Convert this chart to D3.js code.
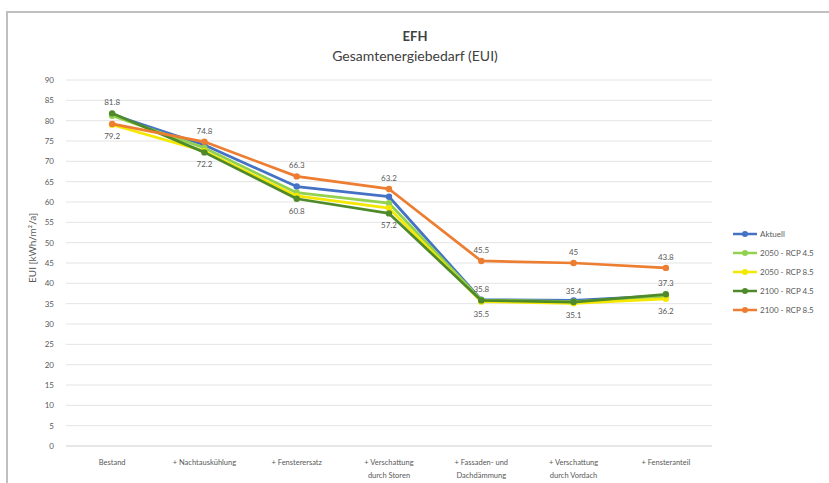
<!DOCTYPE html>
<html>
<head>
<meta charset="utf-8">
<script src="https://cdn.jsdelivr.net/npm/d3@7"></script>
<style>
  body { margin: 0; background: #fff; }
  text { font-family: Lato, "Noto Sans", sans-serif; }
</style>
</head>
<body>
<div id="vis"></div>
<script>
// Categories along the x axis (line breaks as in the reference)
var categories = [
  ['Bestand'],
  ['+ Nachtauskühlung'],
  ['+ Fensterersatz'],
  ['+ Verschattung', 'durch Storen'],
  ['+ Fassaden- und', 'Dachdämmung'],
  ['+ Verschattung', 'durch Vordach'],
  ['+ Fensteranteil']
];

var seriesNames = ['Aktuell', '2050 - RCP 4.5', '2050 - RCP 8.5', '2100 - RCP 4.5', '2100 - RCP 8.5'];

// Values
var aktuell  = [81.5, 74.0, 63.8, 61.3, 36.0, 35.8, 37.0];
var rcp45_50 = [81.2, 73.3, 62.3, 59.7, 35.9, 35.5, 36.8];
var rcp85_50 = [79.0, 72.5, 61.5, 58.5, 35.5, 35.1, 36.2];
var rcp45_00 = [81.8, 72.2, 60.8, 57.2, 35.8, 35.4, 37.3];
var rcp85_00 = [79.2, 74.8, 66.3, 63.2, 45.5, 45.0, 43.8];

var yTicks = d3.range(0, 91, 5);

// Which points carry a data label: [series index, point index, 'above'|'below']
var labelSpecs = [
  [3, 0, 'above'], [3, 1, 'below'], [3, 2, 'below'], [3, 3, 'below'],
  [3, 4, 'above'], [3, 5, 'above'], [3, 6, 'above'],
  [4, 0, 'below'], [4, 1, 'above'], [4, 2, 'above'], [4, 3, 'above'],
  [4, 4, 'above'], [4, 5, 'above'], [4, 6, 'above'],
  [2, 4, 'below'], [2, 5, 'below'], [2, 6, 'below']
];

var colors = ['#4472c4', '#92d050', '#f5e800', '#4f8a2a', '#ed7d31'];

var data = [aktuell, rcp45_50, rcp85_50, rcp45_00, rcp85_00].map(function (v, i) {
  return { name: seriesNames[i], values: v, color: colors[i] };
});

var width = 829;
var height = 483;
var plot = { left: 66, right: 712, top: 80, bottom: 446 };

var svg = d3.select('#vis').append('svg')
  .attr('width', width)
  .attr('height', height);

// Frame of the screenshot (top and left edges)
svg.append('path')
  .attr('d', 'M7,' + height + 'V12H' + width)
  .attr('fill', 'none')
  .attr('stroke', '#bfbfbf')
  .attr('stroke-width', 2);

// Titles
svg.append('text')
  .attr('x', 415).attr('y', 41)
  .attr('text-anchor', 'middle')
  .style('font-size', '13px')
  .style('font-weight', 'bold')
  .attr('fill', '#404040')
  .text('EFH');

svg.append('text')
  .attr('x', 415).attr('y', 61)
  .attr('text-anchor', 'middle')
  .style('font-size', '14px')
  .attr('fill', '#404040')
  .text('Gesamtenergiebedarf (EUI)');

var x = d3.scaleBand()
  .domain(d3.range(categories.length))
  .range([plot.left, plot.right]);

var y = d3.scaleLinear()
  .domain([0, 90])
  .range([plot.bottom, plot.top]);

var g = svg.append('g');

// Gridlines
g.selectAll('.grid').data(yTicks)
  .enter().append('line')
  .attr('class', 'grid')
  .attr('x1', plot.left).attr('x2', plot.right)
  .attr('y1', function (d) { return y(d); })
  .attr('y2', function (d) { return y(d); })
  .attr('stroke', function (d) { return d === 0 ? '#cfcfcf' : '#e4e4e4'; })
  .attr('stroke-width', 1);

// Y axis labels
var yAxis = d3.axisLeft(y).tickValues(yTicks).tickSize(0).tickPadding(0);
var yG = g.append('g')
  .attr('transform', 'translate(' + (plot.left - 12) + ',0)')
  .call(yAxis);
yG.select('.domain').remove();
yG.selectAll('text')
  .style('font-size', '8px')
  .attr('fill', '#595959');

svg.append('text')
  .attr('transform', 'translate(36,248) rotate(-90)')
  .attr('text-anchor', 'middle')
  .style('font-size', '10px')
  .attr('fill', '#595959')
  .text('EUI [kWh/m²/a]');

// X axis category labels
var xLabels = g.selectAll('.x-label').data(categories)
  .enter().append('text')
  .attr('class', 'x-label')
  .attr('text-anchor', 'middle')
  .attr('x', function (d, i) { return x(i) + x.bandwidth() / 2; })
  .attr('y', 465)
  .style('font-size', '7.5px')
  .attr('fill', '#595959');
xLabels.selectAll('tspan').data(function (d) { return d; })
  .enter().append('tspan')
  .attr('x', function () { return d3.select(this.parentNode).attr('x'); })
  .attr('dy', function (d, i) { return i === 0 ? 0 : 13; })
  .text(function (d) { return d; });

var cx = function (d, i) { return x(i) + x.bandwidth() / 2; };

var line = d3.line()
  .x(cx)
  .y(function (d) { return y(d); });

// Lines and markers
var series = g.selectAll('.series').data(data)
  .enter().append('g')
  .attr('class', 'series');

series.append('path')
  .attr('d', function (d) { return line(d.values); })
  .attr('fill', 'none')
  .attr('stroke', function (d) { return d.color; })
  .attr('stroke-width', 2.75)
  .attr('stroke-linejoin', 'round');

series.selectAll('circle').data(function (d) {
    return d.values.map(function (v) { return { v: v, color: d.color }; });
  })
  .enter().append('circle')
  .attr('cx', function (d, i) { return cx(d, i); })
  .attr('cy', function (d) { return y(d.v); })
  .attr('r', 3.2)
  .attr('fill', function (d) { return d.color; });

// Data labels
g.selectAll('.data-label').data(labelSpecs)
  .enter().append('text')
  .attr('class', 'data-label')
  .attr('text-anchor', 'middle')
  .attr('x', function (d) { return cx(null, d[1]); })
  .attr('y', function (d) {
    var py = y(data[d[0]].values[d[1]]);
    return d[2] === 'above' ? py - 8 : py + 15;
  })
  .style('font-size', '8px')
  .attr('fill', '#595959')
  .text(function (d) { return data[d[0]].values[d[1]]; });

// Legend
var legend = svg.selectAll('.legend').data(data)
  .enter().append('g')
  .attr('class', 'legend')
  .attr('transform', function (d, i) { return 'translate(733,' + (234 + i * 19) + ')'; });

legend.append('line')
  .attr('x1', 0).attr('x2', 24)
  .attr('stroke', function (d) { return d.color; })
  .attr('stroke-width', 2.5);

legend.append('circle')
  .attr('cx', 12).attr('r', 3)
  .attr('fill', function (d) { return d.color; });

legend.append('text')
  .attr('x', 27).attr('y', 3)
  .style('font-size', '8px')
  .style('fill', '#595959')
  .text(function (d) { return d.name; });
</script>
</body>
</html>
